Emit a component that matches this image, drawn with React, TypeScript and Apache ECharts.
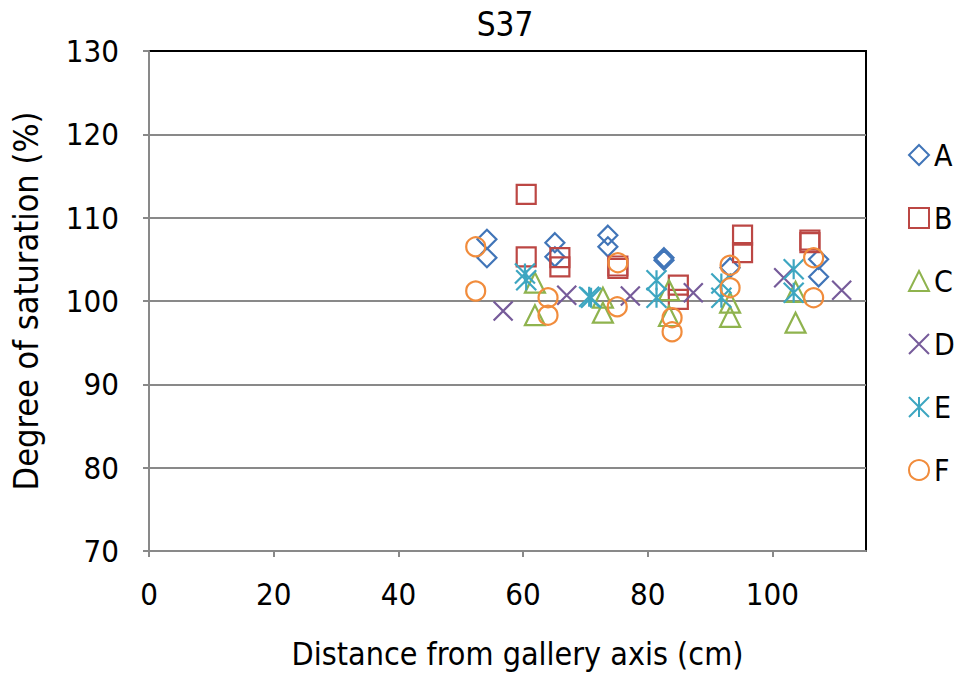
import React, { useEffect, useRef } from "react";
import * as echarts from "echarts";

// Distance from gallery axis (cm) and degree of saturation (%) per sensor line
const seriesNames = ["A", "B", "C", "D", "E", "F"];
const seriesColors = ["#4175B8", "#BC4744", "#8FB34E", "#765B9A", "#3DA6C1", "#F18C3C"];

const dataA: [number, number][] = [
  [54.2, 107.4], [54.2, 105.2], [65.1, 107.0], [65.1, 105.3], [73.6, 107.9],
  [73.6, 106.5], [82.6, 105.2], [82.6, 104.9], [93.2, 104.0], [107.4, 105.0], [107.4, 102.9],
];
const dataB: [number, number][] = [
  [60.5, 112.8], [60.5, 105.3], [65.9, 105.2], [65.9, 104.1], [75.2, 104.2],
  [75.2, 103.9], [84.9, 101.9], [84.9, 100.2], [95.2, 107.9], [95.2, 105.8], [106.0, 107.3], [106.0, 107.0],
];
const dataC: [number, number][] = [
  [61.9, 102.2], [61.9, 98.3], [72.8, 100.4], [72.8, 98.6], [83.4, 101.3],
  [83.4, 98.2], [93.2, 99.8], [93.2, 98.1], [103.7, 101.1], [103.7, 97.4],
];
const dataD: [number, number][] = [
  [56.8, 98.8], [67.0, 100.7], [77.2, 100.6], [87.3, 101.0], [101.8, 102.8], [111.1, 101.3],
];
const dataE: [number, number][] = [
  [60.3, 103.3], [60.5, 102.5], [70.9, 100.4], [70.6, 100.5], [81.4, 102.5],
  [81.4, 100.4], [91.8, 102.1], [91.8, 100.4], [103.4, 103.8], [103.4, 101.0],
];
const dataF: [number, number][] = [
  [52.4, 106.5], [52.4, 101.2], [64.0, 100.4], [64.0, 98.3], [75.2, 104.6],
  [75.1, 99.3], [83.9, 98.0], [83.9, 96.3], [93.2, 104.3], [93.2, 101.6], [106.6, 105.2], [106.6, 100.4],
];
const allData = [dataA, dataB, dataC, dataD, dataE, dataF];

const xTicks = [0, 20, 40, 60, 80, 100];
const yTicks = [70, 80, 90, 100, 110, 120, 130];

const crossPath = "path://M0,0L10,10M10,0L0,10";
const starPath = "path://M0,0L10,10M10,0L0,10M5,0L5,10";
const seriesSymbols = ["diamond", "rect", "triangle", crossPath, starPath, "circle"];
const seriesSizes = [19, 19, 20, 19, 20, 19];

const FONT = "'DejaVu Sans Condensed', 'DejaVu Sans', sans-serif";
const FS = 31;

export default function App() {
  const ref = useRef<HTMLDivElement>(null);

  useEffect(() => {
    if (!ref.current) return;
    const chart = echarts.init(ref.current, null, { renderer: "svg" });
    const axisGrey = "#898989";
    chart.setOption({
      animation: false,
      backgroundColor: "#ffffff",
      textStyle: { fontFamily: FONT },
      title: {
        text: "S37",
        left: 500,
        top: 3,
        textAlign: "center",
        textStyle: { fontFamily: FONT, fontSize: 33, fontWeight: "normal", color: "#000" },
      },
      grid: {
        left: 149,
        right: 95,
        top: 51,
        bottom: 124,
        outerBoundsMode: "none",
        containLabel: false,
        show: true,
        borderColor: "#000",
        borderWidth: 2,
        backgroundColor: "transparent",
      },
      legend: {
        orient: "vertical",
        left: 908,
        top: 140,
        padding: 0,
        itemWidth: 20,
        itemHeight: 20,
        itemGap: 33,
        data: seriesNames,
        textStyle: { fontFamily: FONT, fontSize: 30, color: "#000", lineHeight: 24, padding: [0, 0, 0, 0] },
      },
      xAxis: {
        type: "value",
        min: 0,
        max: 115,
        interval: 20,
        name: "Distance from gallery axis (cm)",
        nameLocation: "middle",
        nameGap: 87,
        nameTextStyle: { fontFamily: FONT, fontSize: 32, color: "#000", padding: [0, 0, 0, 20] },
        axisLine: { show: true, onZero: false, lineStyle: { color: axisGrey, width: 2 } },
        axisTick: { show: true, length: 6, customValues: xTicks, lineStyle: { color: axisGrey, width: 2 } },
        axisLabel: { customValues: xTicks, margin: 27, fontFamily: FONT, fontSize: FS, color: "#000" },
        splitLine: { show: false },
      },
      yAxis: {
        type: "value",
        min: 70,
        max: 130,
        interval: 10,
        name: "Degree of saturation (%)",
        nameLocation: "middle",
        nameGap: 106,
        nameTextStyle: { fontFamily: FONT, fontSize: 34, color: "#000" },
        axisLine: { show: true, onZero: false, lineStyle: { color: axisGrey, width: 2 } },
        axisTick: { show: true, length: 6, lineStyle: { color: axisGrey, width: 2 } },
        axisLabel: { customValues: yTicks, margin: 30, fontFamily: FONT, fontSize: FS, color: "#000" },
        splitLine: { show: true, showMinLine: false, showMaxLine: false, lineStyle: { color: axisGrey, width: 2 } },
      },
      series: seriesNames.map((name, i) => ({
        name,
        type: "scatter",
        data: allData[i],
        symbol: seriesSymbols[i],
        symbolSize: seriesSizes[i],
        itemStyle: {
          color: "rgba(255,255,255,0)",
          borderColor: seriesColors[i],
          borderWidth: 2.2,
          opacity: 1,
        },
        emphasis: { disabled: true },
      })),
    });
    return () => chart.dispose();
  }, []);

  return (
    <div
      ref={ref}
      style={{ position: "fixed", left: 0, top: 0, width: 961, height: 675, background: "#fff" }}
    />
  );
}
